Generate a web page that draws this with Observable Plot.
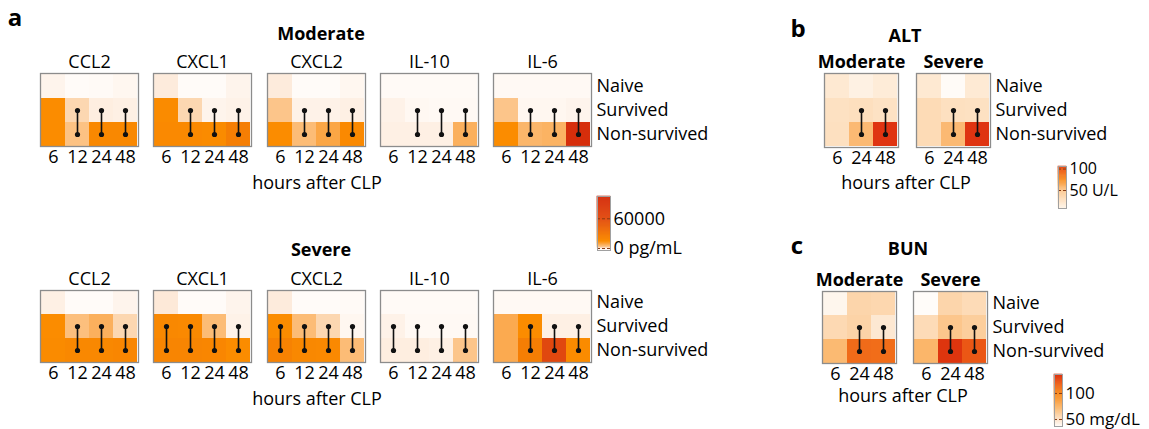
<!DOCTYPE html>
<html><head><meta charset="utf-8">
<script src="https://cdn.jsdelivr.net/npm/d3@7"></script>
<script src="https://cdn.jsdelivr.net/npm/@observablehq/plot@0.6"></script>
<style>
body{margin:0;background:#fff;}
#root{position:relative;width:1149px;height:429px;font-family:"Open Sans",sans-serif;color:#000;overflow:hidden;}
#root svg{position:absolute;overflow:visible;background:none;}
.lbl{position:absolute;white-space:nowrap;transform:translate(-50%,-50%);line-height:1;font-size:18px;}
.b{font-weight:700;}
.big{font-size:24px;font-weight:700;}
</style></head><body><div id="root"></div>
<script>
// ---- categories ----
const groups = ["Naive", "Survived", "Non-survived"];
const cytokines = ["CCL2", "CXCL1", "CXCL2", "IL-10", "IL-6"];
const hoursA = ["6", "12", "24", "48"];
const hoursBC = ["6", "24", "48"];

// ---- panel a, Moderate (pg/mL); rows = Naive, Survived, Non-survived; cols = 6,12,24,48 h ----
const modCCL2  = [[300, 0, 50, 200], [15000, 2000, 600, 500], [15000, 4000, 18000, 18000]];
const modCXCL1 = [[700, 0, 0, 300], [16000, 2000, 300, 400], [17000, 17000, 16000, 25000]];
const modCXCL2 = [[700, 0, 0, 200], [3500, 400, 400, 500], [15000, 5000, 9000, 17000]];
const modIL10  = [[50, 50, 50, 50], [400, 150, 100, 100], [500, 500, 500, 7000]];
const modIL6   = [[100, 100, 100, 100], [3500, 200, 200, 300], [15000, 6000, 6500, 100000]];
// ---- panel a, Severe (pg/mL) ----
const sevCCL2  = [[500, 0, 0, 300], [15000, 4500, 7000, 2000], [16000, 18000, 18000, 19000]];
const sevCXCL1 = [[800, 0, 0, 300], [18000, 17000, 5000, 400], [20000, 20000, 19000, 15000]];
const sevCXCL2 = [[700, 0, 0, 50], [15000, 5000, 2000, 200], [22000, 18000, 17000, 5000]];
const sevIL10  = [[50, 50, 50, 50], [400, 100, 100, 100], [600, 600, 500, 3500]];
const sevIL6   = [[100, 100, 100, 100], [8000, 15000, 500, 500], [8000, 25000, 65000, 16000]];
// significant Survived vs Non-survived time points (dumbbells)
const modSig = [["12","24","48"], ["12","24","48"], ["12","24","48"], ["12","24","48"], ["12","24","48"]];
const sevSig = [["12","24","48"], ["6","12","24","48"], ["6","12","24","48"], ["6","12","24","48"], ["12","24","48"]];

// ---- panel b, ALT (U/L); cols = 6,24,48 h ----
const altMod = [[20, 12, 17], [28, 30, 27], [29, 58, 109]];
const altSev = [[20, 2, 19], [34, 29, 28], [34, 58, 109]];
const altSig = [["24","48"], ["24","48"]];
// ---- panel c, BUN (mg/dL) ----
const bunMod = [[40, 57, 56], [55, 58, 47], [72, 113, 112]];
const bunSev = [[37, 57, 54], [54, 65, 61], [74, 134, 121]];
const bunSig = [["24","48"], ["24","48"]];

// ---- colour scales ----
const colorA = {type: "linear", clamp: true, interpolate: "rgb",
  domain: [0, 800, 3000, 8000, 15000, 60000, 105000],
  range: ["#fffbf8", "#fde9d8", "#fcc890", "#fbaa50", "#fb8c00", "#e24c10", "#d42a0a"]};
const colorB = {type: "linear", clamp: true, interpolate: "rgb",
  domain: [0, 50, 75, 100, 110],
  range: ["#fffdfb", "#fccb95", "#f8922a", "#ec5a18", "#dd3010"]};
const colorC = {type: "linear", clamp: true, interpolate: "rgb",
  domain: [36.5, 50, 75, 100, 120, 136.5],
  range: ["#fffdfb", "#fde2c6", "#fbb466", "#f88a1e", "#ec5a16", "#dc2e0c"]};

const root = document.getElementById("root");
const FONT = "Open Sans";
const FS = 18;

function place(svg, left, top) {
  svg.style.left = left + "px";
  svg.style.top = top + "px";
  root.appendChild(svg);
}

function heat({data, cols, color, sig, title, bold = false, left, top, w, h, rowLabels = false}) {
  const mL = 2, mR = rowLabels ? 135 : 2, mT = 28, mB = 28;
  const cells = groups.flatMap((g, i) => cols.map((c, j) => ({group: g, hour: c, value: data[i][j]})));
  const links = sig.map(c => ({hour: c, a: "Survived", b: "Non-survived"}));
  const p = Plot.plot({
    width: w + mL + mR, height: h + mT + mB,
    marginLeft: mL, marginRight: mR, marginTop: mT, marginBottom: mB,
    style: {fontFamily: FONT, fontSize: FS + "px", background: "transparent", overflow: "visible", color: "#000"},
    x: {domain: cols, padding: 0, label: null, tickSize: 0, tickPadding: 4},
    y: {domain: groups, padding: 0, label: null, axis: rowLabels ? "right" : null, tickSize: 0, tickPadding: 5},
    color,
    marks: [
      Plot.cell(cells, {x: "hour", y: "group", fill: "value", inset: 0}),
      Plot.frame({stroke: "#8c8c8c", strokeWidth: 1.3}),
      Plot.link(links, {x1: "hour", x2: "hour", y1: "a", y2: "b", stroke: "#111", strokeWidth: 1.6}),
      Plot.dot(links, {x: "hour", y: "a", r: 2.6, fill: "#111", stroke: "none"}),
      Plot.dot(links, {x: "hour", y: "b", r: 2.6, fill: "#111", stroke: "none"}),
      Plot.text([title], {text: d => d, frameAnchor: "top", lineAnchor: "middle", dy: -11, fontSize: FS, fontWeight: bold ? 700 : 400, fill: "#000"})
    ]
  });
  place(p, left - mL, top - mT);
}

function colorbar({color, lo, hi, step, ticks, fmt, left, top, w, h, fs = FS}) {
  const mR = 100;
  const samples = d3.range(lo, hi, step).map(v => ({y1: v, y2: Math.min(v + step, hi), v: Math.max(v + step / 2, color.domain[0])}));
  const p = Plot.plot({
    width: w + mR, height: h, marginLeft: 0, marginRight: mR, marginTop: 0, marginBottom: 0,
    style: {fontFamily: FONT, fontSize: fs + "px", background: "transparent", overflow: "visible", color: "#000"},
    x: {domain: [0, 1], axis: null},
    y: {domain: [lo, hi], axis: "right", ticks, tickFormat: fmt, tickSize: 0, tickPadding: 3, label: null},
    color,
    marks: [
      Plot.rect(samples, {x1: 0, x2: 1, y1: "y1", y2: "y2", fill: "v", stroke: "v", strokeWidth: 0.6}),
      Plot.ruleY(ticks, {stroke: "#8a3a12", strokeDasharray: "3,2", strokeWidth: 1}),
      Plot.frame({stroke: "#a0a0a0"})
    ]
  });
  place(p, left, top);
}

function label(text, x, y, cls = "") {
  const d = document.createElement("div");
  d.className = "lbl " + cls;
  d.textContent = text;
  d.style.left = x + "px";
  d.style.top = y + "px";
  root.appendChild(d);
}

// ---- panel a ----
const modData = [modCCL2, modCXCL1, modCXCL2, modIL10, modIL6];
const sevData = [sevCCL2, sevCXCL1, sevCXCL2, sevIL10, sevIL6];
cytokines.forEach((name, i) => {
  const left = 40 + i * 113.25;
  heat({data: modData[i], cols: hoursA, color: colorA, sig: modSig[i], title: name, left, top: 73, w: 98, h: 73, rowLabels: i === 4});
  heat({data: sevData[i], cols: hoursA, color: colorA, sig: sevSig[i], title: name, left, top: 290, w: 98, h: 72, rowLabels: i === 4});
});
label("a", 15, 17, "big");
label("Moderate", 321, 33, "b");
label("hours after CLP", 317, 182);
label("Severe", 321, 249, "b");
label("hours after CLP", 317, 398);
colorbar({color: colorA, lo: -4000, hi: 105000, step: 2000, ticks: [0, 60000], fmt: d => d === 0 ? "0 pg/mL" : String(d), left: 597, top: 196, w: 13, h: 54});

// ---- panel b ----
heat({data: altMod, cols: hoursBC, color: colorB, sig: altSig[0], title: "Moderate", bold: true, left: 824, top: 73, w: 74, h: 74});
heat({data: altSev, cols: hoursBC, color: colorB, sig: altSig[1], title: "Severe", bold: true, left: 916, top: 73, w: 74, h: 74, rowLabels: true});
label("b", 798, 28, "big");
label("ALT", 905, 35, "b");
label("hours after CLP", 906, 182);
colorbar({color: colorB, lo: 8, hi: 106, step: 2, ticks: [50, 100], fmt: d => d === 50 ? "50 U/L" : String(d), left: 1058, top: 166, w: 8, h: 42, fs: 16});

// ---- panel c ----
heat({data: bunMod, cols: hoursBC, color: colorC, sig: bunSig[0], title: "Moderate", bold: true, left: 822, top: 291, w: 74, h: 72});
heat({data: bunSev, cols: hoursBC, color: colorC, sig: bunSig[1], title: "Severe", bold: true, left: 913, top: 291, w: 74, h: 72, rowLabels: true});
label("c", 797, 245, "big");
label("BUN", 908, 248, "b");
label("hours after CLP", 903, 395);
colorbar({color: colorC, lo: 36.5, hi: 136.5, step: 2, ticks: [50, 100], fmt: d => d === 50 ? "50 mg/dL" : String(d), left: 1054, top: 374, w: 8, h: 52, fs: 17});
</script></body></html>
